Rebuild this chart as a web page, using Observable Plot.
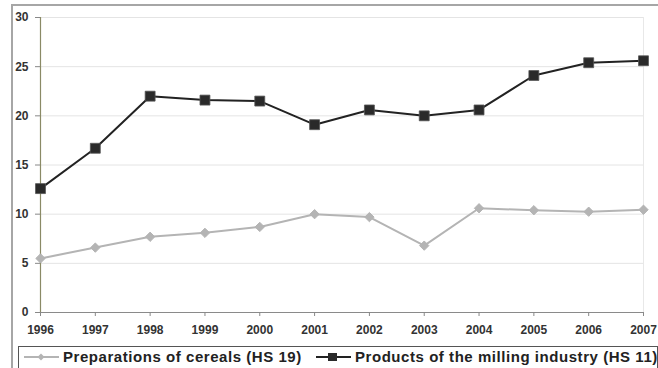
<!DOCTYPE html>
<html><head><meta charset="utf-8">
<script src="https://cdn.jsdelivr.net/npm/d3@7"></script>
<script src="https://cdn.jsdelivr.net/npm/@observablehq/plot@0.6"></script>
<style>
body{margin:0;width:658px;height:368px;overflow:hidden;background:#fff;position:relative;font-family:"Liberation Sans",Arial,sans-serif}
#frame{position:absolute;left:11px;top:4px;width:660px;height:380px;border-left:2px solid #a6a6a6;border-top:2px solid #a6a6a6}
#chart{position:absolute;left:0;top:0}
#legend{position:absolute;left:18px;top:346px;width:640px;height:26px;border:1px solid #555;box-sizing:border-box;font-weight:bold;font-size:15px;letter-spacing:0.55px;color:#222;white-space:nowrap}
#legend span{position:absolute;top:1px;line-height:17px}
#legend svg{position:absolute;top:3px}
</style></head><body>
<div id="frame"></div>
<div id="chart"></div>
<div id="legend"></div>
<script>
const years = [1996,1997,1998,1999,2000,2001,2002,2003,2004,2005,2006,2007];
const cereals = [5.5,6.6,7.7,8.1,8.7,10.0,9.7,6.8,10.6,10.4,10.25,10.45];
const milling = [12.6,16.7,22.0,21.6,21.5,19.1,20.6,20.0,20.6,24.1,25.4,25.6];
const seriesNames = ["Preparations of cereals (HS 19)","Products of the milling industry (HS 11)"];
const yTicks = [0,5,10,15,20,25,30];

const dC = years.map((y,i)=>({year:y,v:cereals[i]}));
const dM = years.map((y,i)=>({year:y,v:milling[i]}));

const plot = Plot.plot({
  width:658, height:344,
  marginLeft:40, marginRight:15, marginTop:17, marginBottom:32,
  style:{fontFamily:'"Liberation Sans",Arial,sans-serif'},
  x:{domain:[1996,2007], ticks:years, tickFormat:d=>String(d), label:null},
  y:{domain:[0,30], ticks:yTicks, label:null},
  marks:[
    Plot.gridY(yTicks,{stroke:"#e4e4e4",strokeOpacity:1}),
    Plot.ruleX([2007],{stroke:"#e8e8e8"}),
    Plot.ruleY([0],{stroke:"#8a8a8a",strokeWidth:1.2}),
    Plot.ruleX([1996],{stroke:"#8a8a66",strokeWidth:1.2}),
    Plot.axisX({ticks:years,tickFormat:d=>String(d),tickSize:4,tickPadding:9,stroke:"#888",fill:"#333",fontWeight:"bold",fontSize:12,style:{letterSpacing:"0.4px"}}),
    Plot.axisY({ticks:yTicks,tickSize:5,tickPadding:7,stroke:"#888",fill:"#333",fontWeight:"bold",fontSize:12}),
    Plot.line(dC,{x:"year",y:"v",stroke:"#b4b4b4",strokeWidth:2}),
    Plot.dot(dC,{x:"year",y:"v",symbol:"diamond2",r:4.2,fill:"#b4b4b4",stroke:"#b4b4b4",strokeWidth:1}),
    Plot.line(dM,{x:"year",y:"v",stroke:"#222",strokeWidth:2}),
    Plot.dot(dM,{x:"year",y:"v",symbol:"square",r:5.6,fill:"#2a2a2a",stroke:"#555",strokeWidth:0.8})
  ]
});
document.getElementById("chart").appendChild(plot);

const lg = document.getElementById("legend");
lg.innerHTML = `
<svg width="40" height="14" style="left:5px"><line x1="0" y1="7" x2="35" y2="7" stroke="#b4b4b4" stroke-width="2"/><path d="M17,3.5L20.5,7L17,10.5L13.5,7Z" fill="#b4b4b4"/></svg>
<span style="left:44px">${seriesNames[0]}</span>
<svg width="40" height="14" style="left:297px"><line x1="0" y1="7" x2="35" y2="7" stroke="#222" stroke-width="2.2"/><rect x="12" y="3" width="9" height="8" fill="#2a2a2a"/></svg>
<span style="left:336px">${seriesNames[1]}</span>`;
</script>
</body></html>
